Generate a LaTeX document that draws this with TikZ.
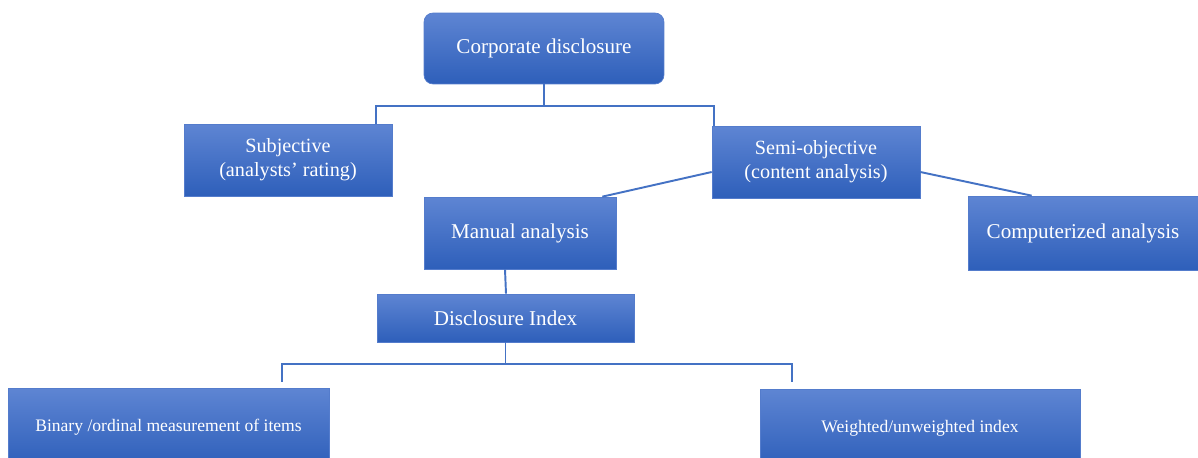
\documentclass[tikz,border=0pt]{standalone}
\usepackage{fontspec}
\setmainfont{Liberation Serif}
\usepackage{tikz}
\usetikzlibrary{calc}
\definecolor{boxtop}{RGB}{94,133,211}
\definecolor{boxbottom}{RGB}{46,95,186}
\definecolor{boxedge}{RGB}{84,124,204}
\definecolor{linkblue}{RGB}{68,114,196}

\begin{document}
\begin{tikzpicture}[
    x=0.02cm, y=-0.02cm,
    block/.style={
      draw=boxedge,
      top color=boxtop,
      bottom color=boxbottom,
      text=white,
      align=center,
      inner sep=0pt,
      font=\fontsize{12}{14}\selectfont
    },
    twoline/.style={font=\fontsize{11.5}{13.6}\selectfont},
    small/.style={font=\fontsize{10}{12}\selectfont},
    link/.style={draw=linkblue,line width=1.1pt}
  ]
    \useasboundingbox (0,0) rectangle (1198,457);
    \node[block,rounded corners=0.18cm,minimum width=4.8cm,minimum height=1.42cm] (corp) at (544,48.5) {Corporate disclosure};
    \node[block,twoline,minimum width=4.16cm,minimum height=1.44cm] (subj) at (288,160) {Subjective\\(analysts’ rating)};
    \node[block,twoline,minimum width=4.16cm,minimum height=1.44cm] (semi) at (816,162) {Semi-objective\\(content analysis)};
    \node[block,minimum width=3.84cm,minimum height=1.44cm] (manual) at (520,233) {Manual analysis};
    \node[block,minimum width=4.6cm,minimum height=1.48cm] (comp) at (1083,233) {Computerized analysis};
    \node[block,minimum width=5.14cm,minimum height=0.96cm] (index) at (505.5,318) {Disclosure Index};
    \node[block,small,minimum width=6.42cm,minimum height=1.56cm] (binary) at (168.5,427) {Binary /ordinal measurement of items};
    \node[block,small,minimum width=6.4cm,minimum height=1.56cm] (weighted) at (920,428) {Weighted/unweighted index};
    \draw[link] (corp.south) -- ++(0,22) coordinate (hub);
    \draw[link] ($(subj.north)+(88,0)$) |- (hub) -| ($(semi.north west)+(2,0)$);
    \draw[link] ($(semi.west)+(0,10)$) -- ($(manual.north east)+(-14,0)$);
    \draw[link] ($(semi.east)+(0,10)$) -- ($(comp.north west)+(64,0)$);
    \draw[link] ($(manual.south)+(-15,0)$) -- ($(index.north)+(0.5,0)$);
    \draw[link,line width=0.6pt] (index.south) -- ++(0,22) coordinate (hub2);
    \draw[link] ($(binary.north)+(113.5,-6)$) |- (hub2) -| ($(weighted.north)+(-128,-7)$);
  \end{tikzpicture}
\end{document}
